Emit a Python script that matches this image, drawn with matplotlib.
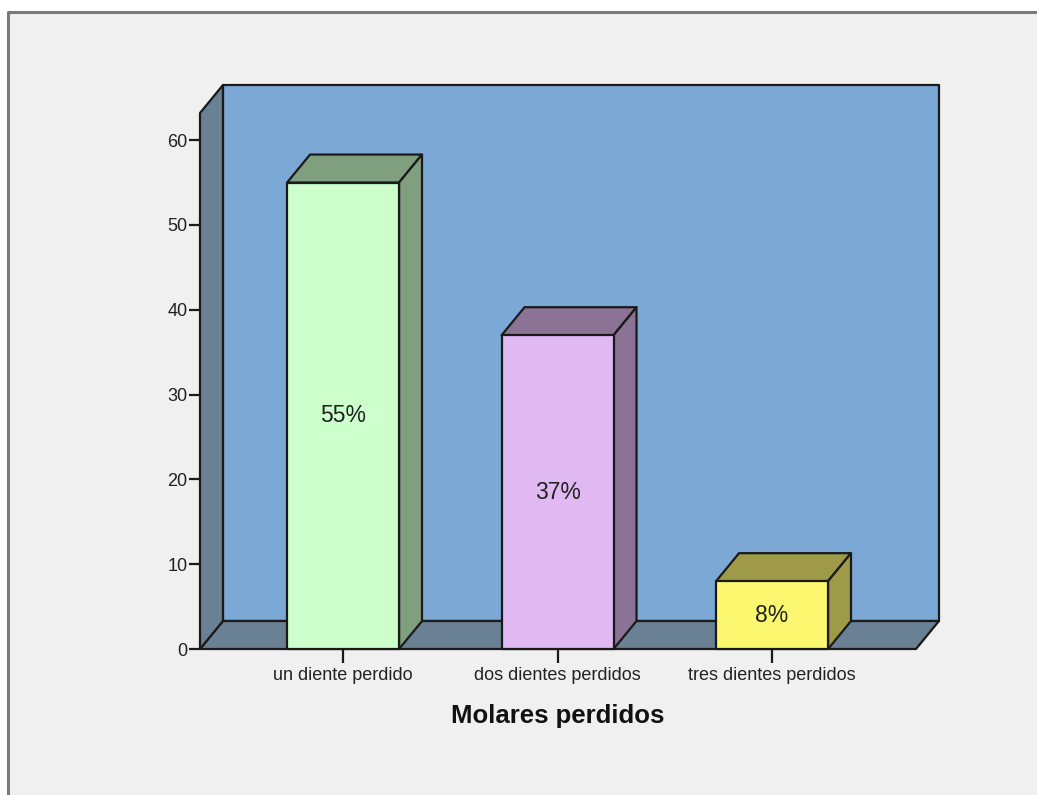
import matplotlib.pyplot as plt
from matplotlib.patches import Polygon
from matplotlib.lines import Line2D

categories = ['un diente perdido', 'dos dientes perdidos', 'tres dientes perdidos']
percents = [55, 37, 8]
y_ticks = [0, 10, 20, 30, 40, 50, 60]

front_colors = ['#ccffcc', '#e0b8f2', '#fbf870']
shade_colors = ['#7f9f7f', '#8a7394', '#9e9a47']

plt.rcParams['font.family'] = ['Liberation Sans', 'DejaVu Sans']

fig = plt.figure(figsize=(10.37, 7.95), dpi=100)
fig.patch.set_facecolor('white')

# panel background with top/left frame lines
fig.patches.append(Polygon([(8 / 1037, 0), (1, 0), (1, 1 - 12 / 795), (8 / 1037, 1 - 12 / 795)],
                           closed=True, transform=fig.transFigure,
                           facecolor='#f0f0f0', edgecolor='none', zorder=-5))
fig.lines.append(Line2D([8 / 1037, 8 / 1037, 1], [0, 1 - 12 / 795, 1 - 12 / 795],
                        transform=fig.transFigure, color='#7a7a7a', lw=2.2, zorder=-4))

ax = fig.add_axes([200 / 1037, (795 - 649) / 795, 716 / 1037, 536 / 795])
ax.set_facecolor('none')

x_lo, x_hi = -0.667, 2.671
y_hi = 63.2
dx, dy = 0.107, 3.3          # depth offset of the 3D box
bar_w = 0.522
edge = '#1a1a1a'

ax.set_xlim(x_lo, x_hi)
ax.set_ylim(0, y_hi)

def face(pts, color, z):
    ax.add_patch(Polygon(pts, closed=True, facecolor=color, edgecolor=edge,
                         lw=1.6, clip_on=False, zorder=z, joinstyle='round'))

# back wall, floor and left wall
face([(x_lo + dx, dy), (x_hi + dx, dy), (x_hi + dx, y_hi + dy), (x_lo + dx, y_hi + dy)], '#7ba8d5', 1)
face([(x_lo, 0), (x_hi, 0), (x_hi + dx, dy), (x_lo + dx, dy)], '#6a8094', 2)
face([(x_lo, 0), (x_lo + dx, dy), (x_lo + dx, y_hi + dy), (x_lo, y_hi)], '#6a8094', 2)

for i, (p, fc, sc) in enumerate(zip(percents, front_colors, shade_colors)):
    l, r = i - bar_w / 2, i + bar_w / 2
    face([(l, p), (r, p), (r + dx, p + dy), (l + dx, p + dy)], sc, 3)
    face([(r, 0), (r + dx, dy), (r + dx, p + dy), (r, p)], sc, 3)
    face([(l, 0), (r, 0), (r, p), (l, p)], fc, 4)
    ax.text(i, p / 2, f'{p}%', ha='center', va='center', fontsize=16.5,
            color='#222222', zorder=5)

for s in ax.spines.values():
    s.set_visible(False)

ax.set_yticks(y_ticks)
ax.set_xticks(range(len(categories)))
ax.set_xticklabels(categories)
ax.tick_params(axis='y', length=8, width=1.6, color=edge, labelsize=13,
               pad=1, labelcolor='#222222')
ax.tick_params(axis='x', length=10, width=1.6, color=edge, labelsize=13,
               pad=3, labelcolor='#222222')
ax.set_xlabel('Molares perdidos', fontsize=18.5, fontweight='bold', labelpad=14,
              color='#111111')

fig.savefig('out.png', dpi=100)
